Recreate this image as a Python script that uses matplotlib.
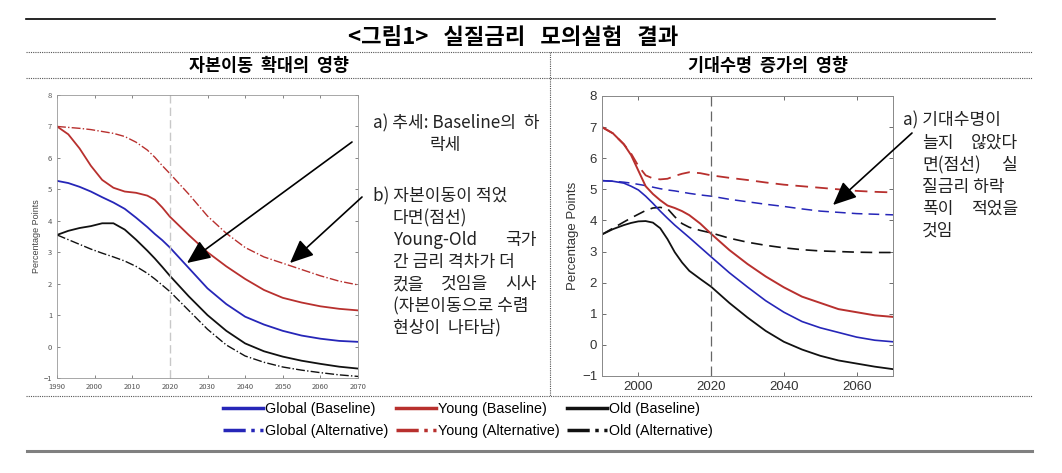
import matplotlib.pyplot as plt
from matplotlib.lines import Line2D
from matplotlib.patches import FancyArrowPatch

plt.rcParams["font.family"] = ["Noto Sans CJK KR", "DejaVu Sans"]

W, H = 1062, 473

# left panel: effect of capital mobility
left_years = [1990, 1993, 1996, 1999, 2002, 2005, 2008, 2011, 2014, 2016, 2018, 2020,
              2025, 2030, 2035, 2040, 2045, 2050, 2055, 2060, 2065, 2070]
left_young_base = [7.0, 6.75, 6.3, 5.75, 5.3, 5.05, 4.93, 4.89, 4.8, 4.67, 4.42, 4.13,
                   3.55, 3.0, 2.55, 2.15, 1.8, 1.55, 1.4, 1.28, 1.2, 1.15]
left_young_alt = [7.0, 6.97, 6.94, 6.9, 6.84, 6.78, 6.68, 6.5, 6.25, 6.02, 5.75, 5.5,
                  4.85, 4.15, 3.6, 3.15, 2.85, 2.65, 2.45, 2.25, 2.08, 1.96]
left_global_base = [5.27, 5.2, 5.08, 4.93, 4.75, 4.58, 4.38, 4.1, 3.8, 3.58, 3.38, 3.15,
                    2.5, 1.85, 1.35, 0.95, 0.7, 0.5, 0.35, 0.25, 0.18, 0.15]
left_old_base = [3.55, 3.68, 3.77, 3.83, 3.92, 3.92, 3.72, 3.4, 3.05, 2.8, 2.53, 2.25,
                 1.6, 1.0, 0.5, 0.1, -0.15, -0.32, -0.45, -0.55, -0.64, -0.7]
left_old_alt = [3.55, 3.4, 3.25, 3.1, 2.97, 2.85, 2.72, 2.55, 2.33, 2.15, 1.95, 1.75,
                1.15, 0.55, 0.05, -0.3, -0.5, -0.65, -0.75, -0.83, -0.9, -0.95]

# right panel: effect of longer life expectancy
right_years = [1990, 1993, 1996, 1998, 2000, 2002, 2004, 2006, 2008, 2010, 2012, 2014,
               2017, 2020, 2025, 2030, 2035, 2040, 2045, 2050, 2055, 2060, 2065, 2070]
right_young_base = [7.0, 6.8, 6.45, 6.1, 5.6, 5.1, 4.85, 4.65, 4.48, 4.4, 4.3, 4.17,
                    3.9, 3.57, 3.05, 2.6, 2.2, 1.85, 1.55, 1.35, 1.15, 1.05, 0.95, 0.9]
right_young_alt = [7.0, 6.8, 6.45, 6.15, 5.75, 5.45, 5.35, 5.32, 5.34, 5.43, 5.5, 5.55,
                   5.52, 5.45, 5.37, 5.3, 5.22, 5.15, 5.1, 5.05, 5.0, 4.95, 4.92, 4.9]
right_global_base = [5.28, 5.26, 5.2, 5.1, 4.98, 4.78, 4.55, 4.3, 4.07, 3.85, 3.65, 3.45,
                     3.14, 2.83, 2.32, 1.86, 1.42, 1.05, 0.75, 0.55, 0.4, 0.25, 0.15, 0.1]
right_global_alt = [5.28, 5.26, 5.23, 5.2, 5.16, 5.12, 5.07, 5.02, 4.98, 4.95, 4.91, 4.87,
                    4.82, 4.78, 4.68, 4.6, 4.52, 4.45, 4.37, 4.3, 4.26, 4.22, 4.2, 4.18]
right_old_base = [3.55, 3.72, 3.85, 3.92, 3.97, 3.98, 3.93, 3.75, 3.4, 2.98, 2.65, 2.38,
                  2.12, 1.87, 1.35, 0.88, 0.45, 0.1, -0.15, -0.35, -0.5, -0.6, -0.7, -0.78]
right_old_alt = [3.55, 3.75, 3.95, 4.08, 4.2, 4.32, 4.4, 4.42, 4.38, 4.12, 3.9, 3.78,
                 3.68, 3.6, 3.43, 3.3, 3.2, 3.12, 3.06, 3.02, 3.0, 2.98, 2.97, 2.97]

BLUE = "#2626b8"
RED = "#b8302e"
BLACK = "#111111"

# annotation lines: (words, left px, right px or None for plain text)
left_notes = [
    (["a) 추세: Baseline의  하"], 373, None),
    (["락세"], 430, None),
    (["b) 자본이동이 적었"], 373, None),
    (["다면(점선)"], 393, None),
    (["Young-Old", "국가"], 393, 537),
    (["간 금리 격차가 더"], 393, None),
    (["컸을", "것임을", "시사"], 393, 537),
    (["(자본이동으로 수렴"], 393, None),
    (["현상이  나타남)"], 393, None),
]
left_note_y = [123, 145, 196, 218, 240, 262, 284, 306, 328]

right_notes = [
    (["a) 기대수명이"], 903, None),
    (["늘지", "않았다"], 922, 1018),
    (["면(점선)", "실"], 922, 1018),
    (["질금리 하락"], 922, None),
    (["폭이", "적었을"], 922, 1018),
    (["것임"], 922, None),
]
right_note_y = [120, 143, 165, 187, 209, 231]


def fx(px):
    return px / W


def fy(py):
    return 1 - py / H


def axes_from_px(fig, left, top, right, bottom):
    return fig.add_axes([fx(left), fy(bottom), (right - left) / W, (bottom - top) / H])


def put_line(fig, renderer, words, left, right, y, **kw):
    if right is None or len(words) == 1:
        fig.text(fx(left), fy(y), " ".join(words), ha="left", va="center", **kw)
        return
    texts = [fig.text(0, fy(y), w, ha="left", va="center", **kw) for w in words]
    widths = [t.get_window_extent(renderer).width for t in texts]
    gap = (right - left - sum(widths)) / (len(words) - 1)
    x = left
    for t, wd in zip(texts, widths):
        t.set_x(fx(x))
        x += wd + gap


fig = plt.figure(figsize=(W / 100, H / 100), dpi=100)
renderer = fig.canvas.get_renderer()

# frame lines
fig.add_artist(Line2D([fx(26), fx(995)], [fy(19), fy(19)], color="black", lw=1.2))
for yy in (52, 78, 396):
    fig.add_artist(Line2D([fx(26), fx(1032)], [fy(yy), fy(yy)], color="#555555",
                          lw=0.8, linestyle=(0, (1, 1))))
fig.add_artist(Line2D([fx(550), fx(550)], [fy(52), fy(396)], color="#555555",
                      lw=0.8, linestyle=(0, (1, 1))))
fig.add_artist(Line2D([fx(27), fx(1032)], [fy(451), fy(451)], color="#808080", lw=2.2))

fig.text(fx(513), fy(37), "<그림1>   실질금리   모의실험   결과", ha="center", va="center",
         fontsize=16, fontweight="bold")
fig.text(fx(269), fy(66), "자본이동  확대의  영향", ha="center", va="center",
         fontsize=12.5, fontweight="bold")
fig.text(fx(768), fy(66), "기대수명  증가의  영향", ha="center", va="center",
         fontsize=12.5, fontweight="bold")

# left chart
ax1 = axes_from_px(fig, 57, 95, 358, 378)
ax1.plot(left_years, left_young_alt, color=RED, lw=1.0, linestyle="-.")
ax1.plot(left_years, left_young_base, color=RED, lw=1.3)
ax1.plot(left_years, left_global_base, color=BLUE, lw=1.3)
ax1.plot(left_years, left_old_base, color=BLACK, lw=1.3)
ax1.plot(left_years, left_old_alt, color=BLACK, lw=1.0, linestyle="-.")
ax1.axvline(2020, color="#c8c8c8", lw=1.0, linestyle=(0, (6, 3)))
ax1.set_xlim(1990, 2070)
ax1.set_ylim(-1, 8)
ax1.set_xticks(range(1990, 2071, 10))
ax1.set_yticks(range(-1, 9))
ax1.tick_params(labelsize=5.5, colors="#555555", length=2, width=0.5, direction="in",
                top=True, right=True)
ax1.set_ylabel("Percentage Points", fontsize=6.5, color="#444444", labelpad=2,
               family=["Liberation Sans", "DejaVu Sans"])
for s in ax1.spines.values():
    s.set_color("#999999")
    s.set_linewidth(0.6)

# right chart
ax2 = axes_from_px(fig, 602, 96, 893, 376)
ax2.plot(right_years, right_young_alt, color=RED, lw=1.3, linestyle=(0, (7, 4)))
ax2.plot(right_years, right_global_alt, color=BLUE, lw=1.1, linestyle=(0, (7, 4)))
ax2.plot(right_years, right_old_alt, color=BLACK, lw=1.2, linestyle=(0, (7, 4)))
ax2.plot(right_years, right_young_base, color=RED, lw=1.4)
ax2.plot(right_years, right_global_base, color=BLUE, lw=1.2)
ax2.plot(right_years, right_old_base, color=BLACK, lw=1.3)
ax2.axvline(2020, color="#666666", lw=0.9, linestyle=(0, (8, 4)))
ax2.set_xlim(1990, 2070)
ax2.set_ylim(-1, 8)
ax2.set_xticks([2000, 2020, 2040, 2060])
ax2.set_yticks(range(-1, 9))
ax2.tick_params(labelsize=9.5, colors="#333333", length=3, width=0.5, direction="in",
                top=True, right=True)
for lab in ax2.get_xticklabels() + ax2.get_yticklabels():
    lab.set_family(["Liberation Sans", "DejaVu Sans"])
ax2.set_ylabel("Percentage Points", fontsize=9.5, color="#333333", labelpad=2,
               family=["Liberation Sans", "DejaVu Sans"])
for s in ax2.spines.values():
    s.set_color("#888888")
    s.set_linewidth(0.7)

# annotations
txt_kw = dict(fontsize=12.3, color="#222222")
for (words, left, right), y in zip(left_notes, left_note_y):
    put_line(fig, renderer, words, left, right, y, **txt_kw)
for (words, left, right), y in zip(right_notes, right_note_y):
    put_line(fig, renderer, words, left, right, y, **txt_kw)

arrow_kw = dict(arrowstyle="-|>,head_length=0.9,head_width=0.4", color="black", lw=1.2,
                mutation_scale=16, shrinkA=0, shrinkB=0)
for (x0, y0), (x1, y1) in [((352, 142), (187, 263)), ((362, 197), (290, 263)),
                           ((912, 133), (833, 205))]:
    fig.add_artist(FancyArrowPatch((fx(x0), fy(y0)), (fx(x1), fy(y1)),
                                   transform=fig.transFigure, **arrow_kw))

# legend
handles = [
    Line2D([], [], color=BLUE, lw=2.5, label="Global (Baseline)"),
    Line2D([], [], color=BLUE, lw=2.5, linestyle="-.", label="Global (Alternative)"),
    Line2D([], [], color=RED, lw=2.5, label="Young (Baseline)"),
    Line2D([], [], color=RED, lw=2.5, linestyle="-.", label="Young (Alternative)"),
    Line2D([], [], color=BLACK, lw=2.5, label="Old (Baseline)"),
    Line2D([], [], color=BLACK, lw=2.5, linestyle="-.", label="Old (Alternative)"),
]
fig.legend(handles=handles, ncol=3, loc="center", bbox_to_anchor=(fx(468), fy(420)),
           frameon=False, handlelength=2.8, handletextpad=0.15,
           columnspacing=0.5, labelspacing=0.5,
           prop={"family": ["Liberation Sans", "DejaVu Sans"], "size": 10.3})

fig.savefig("out.png", dpi=100)
